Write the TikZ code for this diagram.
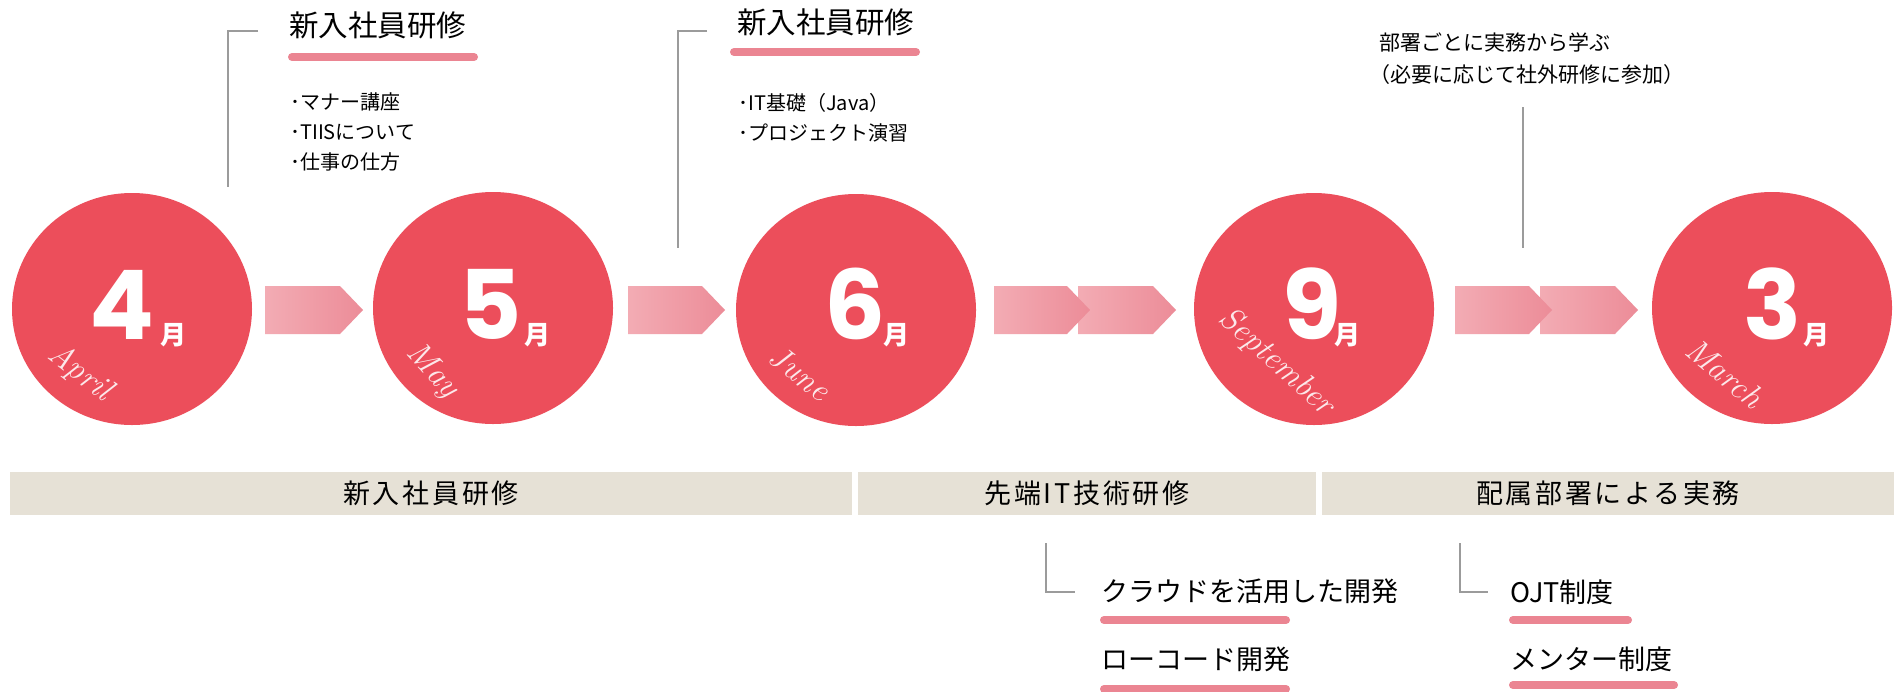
\documentclass[tikz,border=0pt]{standalone}
\usepackage{fontspec}
\usetikzlibrary{shapes.geometric}
\newfontfamily\jp{Noto Sans CJK JP}
\newfontfamily\jpwide{Noto Sans CJK JP}[LetterSpace=10]
\newfontfamily\digitfont{Poppins}
\definecolor{blobred}{RGB}{236,78,91}
\definecolor{chevA}{RGB}{243,172,180}
\definecolor{chevB}{RGB}{236,140,152}
\definecolor{bandbg}{RGB}{230,225,214}
\definecolor{linegray}{RGB}{155,155,155}
\definecolor{brush}{RGB}{232,112,128}
\definecolor{scriptc}{RGB}{252,232,234}
\begin{document}
\begin{tikzpicture}[x=1pt,y=-1pt,
  blob/.style={ellipse, fill=blobred, minimum width=240pt, minimum height=232pt, inner sep=0pt},
  digit/.style={text=white, font=\digitfont\bfseries\fontsize{96}{96}\selectfont, inner sep=0pt, anchor=base},
  tsuki/.style={text=white, font=\jp\bfseries\fontsize{26}{26}\selectfont, inner sep=0pt, anchor=base},
  mname/.style={text=scriptc, font=\itshape\fontsize{33}{33}\selectfont, inner sep=0pt},
  chevron/.style={left color=chevA, right color=chevB},
  callout/.style={draw=linegray, line width=2pt},
  title/.style={font=\jp\fontsize{29.5}{29.5}\selectfont, inner sep=0pt, anchor=west},
  bullets/.style={font=\jp\fontsize{20}{30}\selectfont, inner sep=0pt, anchor=west, align=left},
  brushline/.style={draw=brush, line width=8pt, line cap=round, opacity=0.85},
  band/.style={fill=bandbg, minimum height=43pt, inner sep=0pt, font=\jpwide\fontsize{27}{27}\selectfont},
  item/.style={font=\jp\fontsize{27}{27}\selectfont, inner sep=0pt, anchor=west}
]
\useasboundingbox (0,0) rectangle (1894,691);
\fill[white] (0,0) rectangle (1894,691);

% month blobs
\node[blob] (apr) at (132,309) {};
\node[blob] (may) at (493,308) {};
\node[blob] (jun) at (856,310) {};
\node[blob] (sep) at (1314,309) {};
\node[blob] (mar) at (1772,308) {};

% digits
\node[digit] (d4) at (122,339) {4};
\node[tsuki] (m4) at (173,344) {月};
\node[digit] (d5) at (491,339) {5};
\node[tsuki] (m5) at (537,344) {月};
\node[digit] (d6) at (855,339) {6};
\node[tsuki] (m6) at (896,344) {月};
\node[digit] (d9) at (1312,339) {9};
\node[tsuki] (m9) at (1347,344) {月};
\node[digit] (d3) at (1773,339) {3};
\node[tsuki] (m3) at (1816,344) {月};

% english names
\node[mname, rotate=-38] (e4) at (80,373) {April};
\node[mname, rotate=-48] (e5) at (432,371) {May};
\node[mname, rotate=-38] (e6) at (800,373) {June};
\node[mname, rotate=-42] (e9) at (1276,362) {September};
\node[mname, rotate=-40] (e3) at (1725,373) {March};

% chevrons
\shade[chevron] (265,286) -- (340,286) -- (363,310) -- (340,334) -- (265,334) -- cycle;
\shade[chevron] (628,286) -- (702,286) -- (725,310) -- (702,334) -- (628,334) -- cycle;
\shade[chevron] (1078,286) -- (1153,286) -- (1176,310) -- (1153,334) -- (1078,334) -- cycle;
\shade[chevron] (994,286) -- (1067,286) -- (1090,310) -- (1067,334) -- (994,334) -- cycle;
\shade[chevron] (1540,286) -- (1615,286) -- (1638,310) -- (1615,334) -- (1540,334) -- cycle;
\shade[chevron] (1455,286) -- (1529,286) -- (1552,310) -- (1529,334) -- (1455,334) -- cycle;

% top callout 1
\node[title] (t1) at (289,25) {新入社員研修};
\draw[brushline] (292,57) -- (474,57);
\node[bullets] (b1) at (290,132) {･マナー講座\\･TIISについて\\･仕事の仕方};
\coordinate (c1a) at (258,31);
\coordinate (c1b) at (228,31);
\coordinate (c1c) at (228,187);
\draw[callout] (c1a) -- (c1b) -- (c1c);

% top callout 2
\node[title] (t2) at (737,22) {新入社員研修};
\draw[brushline] (734,52) -- (916,52);
\node[bullets] (b2) at (738,117.5) {･IT基礎（Java）\\･プロジェクト演習};
\coordinate (c2a) at (707,31);
\coordinate (c2b) at (678,31);
\coordinate (c2c) at (678,248);
\draw[callout] (c2a) -- (c2b) -- (c2c);

% top callout 3
\node[font=\jp\fontsize{21}{32}\selectfont, inner sep=0pt, anchor=west, align=left] (t3) at (1379,59) {部署ごとに実務から学ぶ\\\hspace*{-0.45em}（必要に応じて社外研修に参加）};
\coordinate (c3a) at (1523,107);
\coordinate (c3b) at (1523,248);
\draw[callout] (c3a) -- (c3b);

% bands
\node[band, minimum width=842pt] (band1) at (431,493.5) {新入社員研修};
\node[band, minimum width=458pt] (band2) at (1087,493.5) {先端IT技術研修};
\node[band, minimum width=572pt] (band3) at (1608,493.5) {配属部署による実務};

% bottom items
\coordinate (c4a) at (1046,543);
\coordinate (c4b) at (1046,592);
\coordinate (c4c) at (1075,592);
\draw[callout] (c4a) -- (c4b) -- (c4c);
\node[item] (i1) at (1101,591) {クラウドを活用した開発};
\draw[brushline] (1104,620) -- (1286,620);
\node[item] (i2) at (1101,659) {ローコード開発};
\draw[brushline] (1104,689) -- (1286,689);

\coordinate (c5a) at (1460,543);
\coordinate (c5b) at (1460,592);
\coordinate (c5c) at (1488,592);
\draw[callout] (c5a) -- (c5b) -- (c5c);
\node[item] (i3) at (1510,592) {OJT制度};
\draw[brushline] (1513,620) -- (1628,620);
\node[item] (i4) at (1510,659) {メンター制度};
\draw[brushline] (1513,685) -- (1674,685);
\end{tikzpicture}
\end{document}
